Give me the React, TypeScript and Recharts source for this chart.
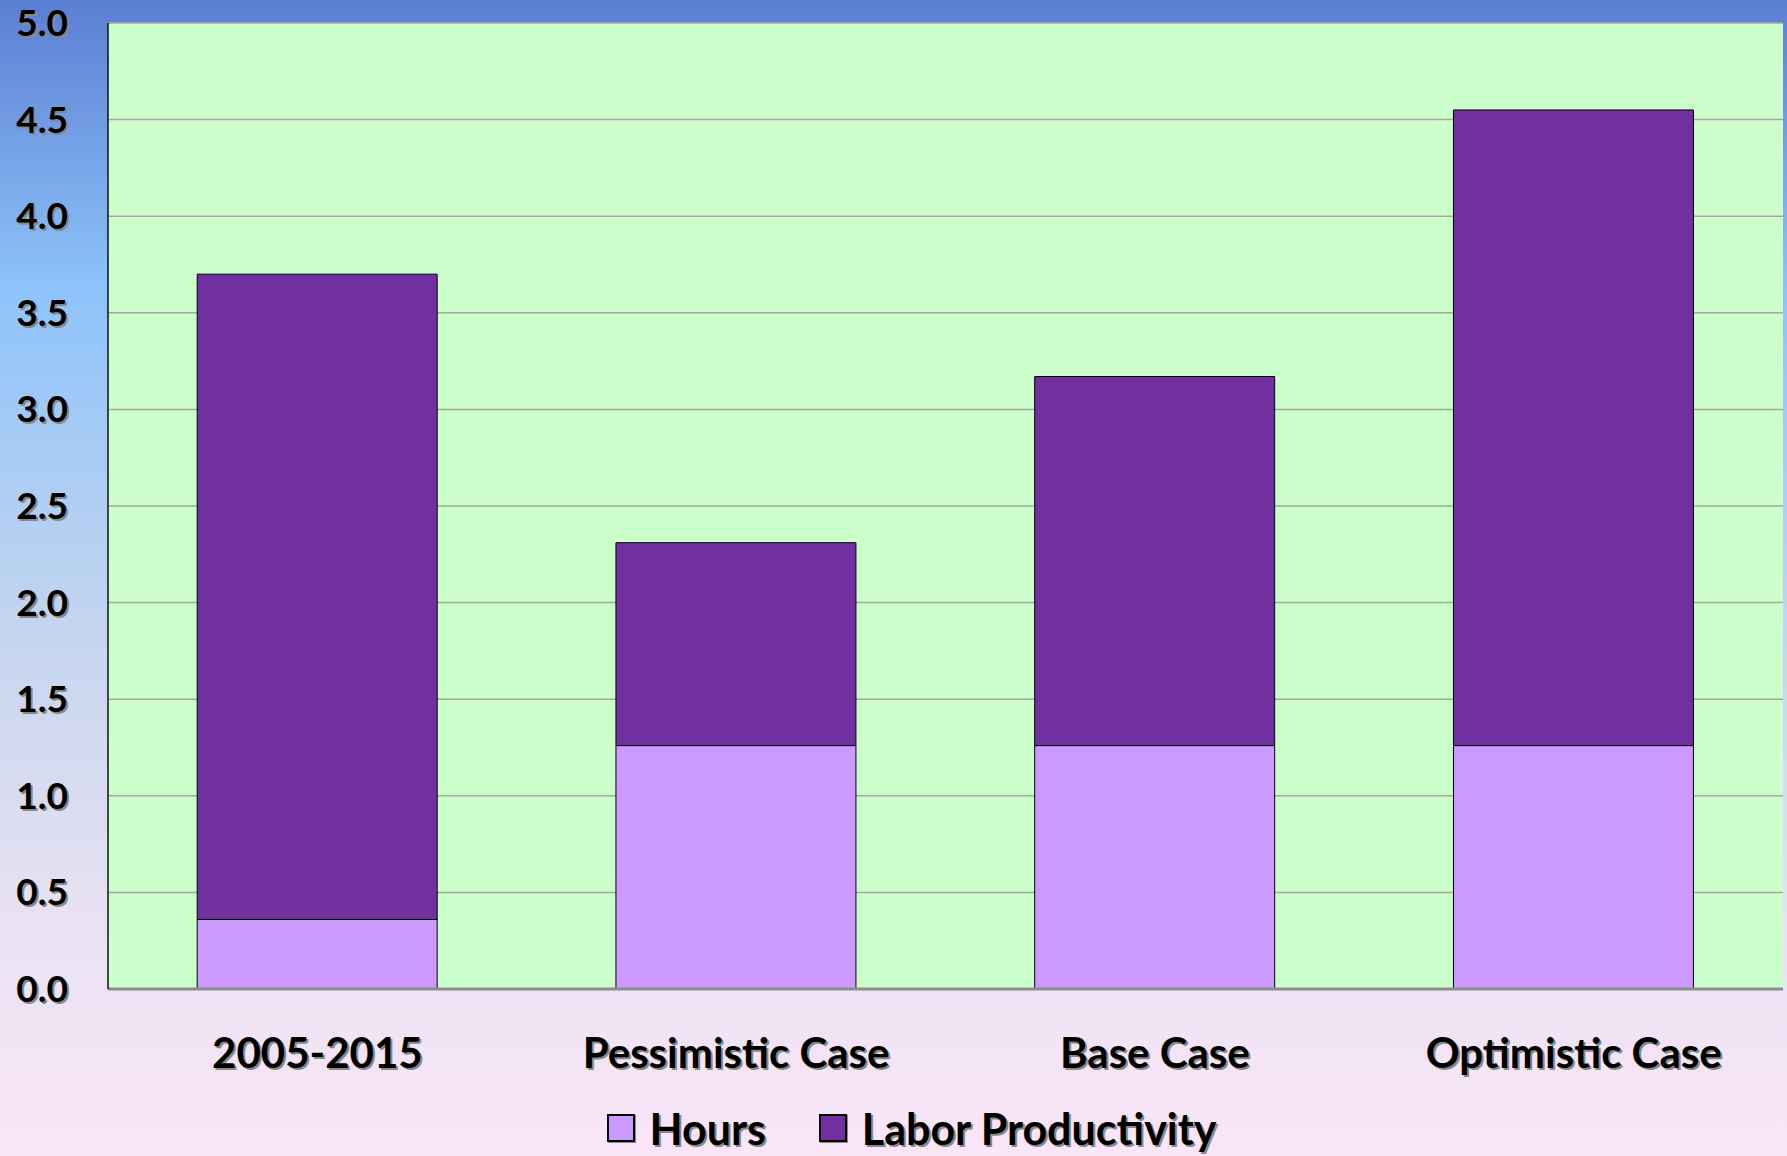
import React from "react";
import { BarChart, Bar, XAxis, YAxis, CartesianGrid, Legend } from "recharts";

const categories = ["2005-2015", "Pessimistic Case", "Base Case", "Optimistic Case"];
const hours = [0.36, 1.26, 1.26, 1.26];
const laborProductivity = [3.34, 1.05, 1.91, 3.29];
const yTicks = [0, 0.5, 1, 1.5, 2, 2.5, 3, 3.5, 4, 4.5, 5];

const data = categories.map((c, i) => ({
  name: c,
  hours: hours[i],
  prod: laborProductivity[i],
}));

const FONT = "Lato, 'Open Sans', sans-serif";

const YTick = (props: any) => {
  const { y, payload } = props;
  const label = Number(payload.value).toFixed(1);
  return (
    <g>
      <text x={70} y={y + 15} textAnchor="end" fontFamily={FONT} fontWeight={700} fontSize={37} fill="#888">{label}</text>
      <text x={68} y={y + 13} textAnchor="end" fontFamily={FONT} fontWeight={700} fontSize={37} fill="#000">{label}</text>
    </g>
  );
};

const XTick = (props: any) => {
  const { x, y, payload } = props;
  return (
    <g>
      <text x={x + 2} y={y + 81} textAnchor="middle" fontFamily={FONT} fontWeight={700} fontSize={42} fill="#888">{payload.value}</text>
      <text x={x} y={y + 79} textAnchor="middle" fontFamily={FONT} fontWeight={700} fontSize={42} fill="#000">{payload.value}</text>
    </g>
  );
};

const LegendContent = () => {
  const items = [
    { label: "Hours", color: "#cc99ff" },
    { label: "Labor Productivity", color: "#7030a0" },
  ];
  return (
    <div style={{ height: 56, paddingLeft: 40, boxSizing: "border-box", display: "flex", justifyContent: "center", alignItems: "center", fontFamily: FONT, fontWeight: 700, fontSize: 43, color: "#000", textShadow: "2px 2px 0 #888" }}>
      {items.map((it, i) => (
        <div key={it.label} style={{ display: "flex", alignItems: "center", marginLeft: i === 0 ? 0 : 53 }}>
          <div style={{ width: 28, height: 28, background: it.color, border: "2px solid #000", boxSizing: "border-box", marginRight: 15, boxShadow: "1px 1px 0 #888" }} />
          <span>{it.label}</span>
        </div>
      ))}
    </div>
  );
};

export default function App() {
  return (
    <div style={{ position: "absolute", left: 0, top: 0, width: 1787, height: 1156, background: "linear-gradient(to bottom, #5b7fd3 0%, #8ec3fa 25%, #c5d5ef 55%, #e9e2f3 80%, #fae6f8 100%)" }}>
      <BarChart width={1787} height={1156} data={data} margin={{ top: 23, right: 4, left: 0, bottom: 0 }} barCategoryGap="21.3%">
        <CartesianGrid vertical={false} stroke="#a6a6a6" strokeWidth={1.5} fill="#ccffcc" />
        <XAxis dataKey="name" height={111} tickLine={false} tickSize={0} tickMargin={0} axisLine={{ stroke: "#8c8c8c", strokeWidth: 3 }} tick={<XTick />} interval={0} />
        <XAxis xAxisId="top" orientation="top" dataKey="name" height={0} tick={false} tickLine={false} axisLine={{ stroke: "#333", strokeWidth: 1.5 }} />
        <YAxis width={108} domain={[0, 5]} ticks={yTicks} tickLine={false} tickSize={0} axisLine={{ stroke: "#111", strokeWidth: 1.5 }} tick={<YTick />} interval={0} />
        <YAxis yAxisId="right" orientation="right" width={0} domain={[0, 5]} tick={false} tickLine={false} axisLine={{ stroke: "#000", strokeWidth: 2.5 }} />
        <Legend verticalAlign="bottom" content={<LegendContent />} />
        <Bar dataKey="hours" name="Hours" stackId="a" fill="#cc99ff" stroke="#000" strokeWidth={1} isAnimationActive={false} />
        <Bar dataKey="prod" name="Labor Productivity" stackId="a" fill="#7030a0" stroke="#000" strokeWidth={1} isAnimationActive={false} />
      </BarChart>
    </div>
  );
}
